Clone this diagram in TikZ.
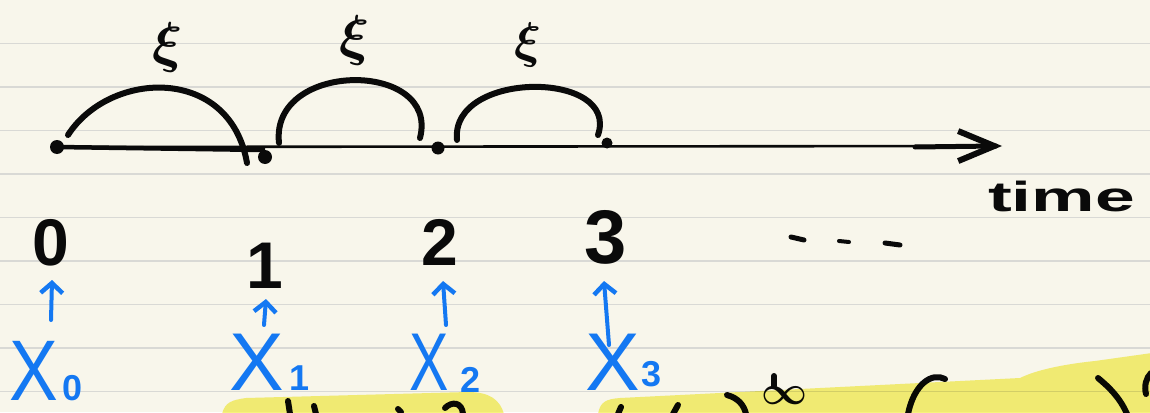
\documentclass[tikz,border=0pt]{standalone}
\usepackage{fontspec}
\newfontfamily\handfont{Liberation Sans}
\usetikzlibrary{arrows.meta}
\definecolor{paper}{HTML}{F8F6EB}
\definecolor{ruleline}{HTML}{D9D9D5}
\definecolor{ink}{HTML}{0A0A0A}
\definecolor{pen}{HTML}{1478F2}
\definecolor{hl}{HTML}{F7F37C}
\begin{document}
\begin{tikzpicture}[x=1pt,y=-1pt,
  ruled/.style={ruleline, line width=1.6pt},
  dotstyle/.style={circle, fill=ink, inner sep=0pt, minimum size=#1},
  axisline/.style={ink, line width=2.6pt},
  arcline/.style={ink, line width=6pt, line cap=round},
  xilab/.style={ink, font=\normalsize\boldmath, inner sep=0pt},
  numlab/.style={ink, font=\fontsize{66}{66}\selectfont\handfont\bfseries, inner sep=0pt},
  xlab/.style={pen, font=\fontsize{82}{82}\selectfont\handfont, inner sep=0pt, anchor=base west},
  xsubl/.style={pen, font=\fontsize{36}{36}\selectfont\handfont\bfseries, inner sep=0pt, anchor=base west},
  uparrow/.style={pen, line width=4pt, line cap=round, -{Straight Barb[length=10pt,width=22pt,line width=4.5pt]}},
  scrib/.style={ink, line width=6pt, line cap=round},
  hilite/.style={fill=hl},
]
\useasboundingbox (0,0) rectangle (1150,412);
\clip (0,0) rectangle (1150,412);
\fill[paper] (0,0) rectangle (1150,412);
% ruled paper
\foreach \yy in {43.5,87,130.5,174,217.5,261,304.5,348,391.5}
  \draw[ruled] (0,\yy) -- (1150,\yy);

% dots on the time axis
\node[dotstyle=14pt] (d0) at (57,147) {};
\node[dotstyle=14pt] (d1) at (265,157) {};
\node[dotstyle=13pt] (d2) at (438,148) {};
\node[dotstyle=11pt] (d3) at (607,143) {};
\coordinate (tip) at (1002,146);
\coordinate (seg1) at (265,150);
\coordinate (thick) at (915,147);

% axis
\draw[axisline, -{Straight Barb[length=36pt,width=30pt,line width=6pt]}] (d0.center) -- (tip);
\draw[ink, line width=4.5pt] (d0.center) -- (seg1);
\draw[ink, line width=5pt, line cap=round] (thick) -- ([xshift=-6pt]tip);

% arcs
\coordinate (a1s) at (68,135);  \coordinate (a1e) at (247,163);
\coordinate (a2s) at (279,143); \coordinate (a2e) at (420,138);
\coordinate (a3s) at (457,140); \coordinate (a3e) at (598,135);
\draw[arcline] (a1s) .. controls (110,70) and (230,65) .. (a1e);
\draw[arcline] (a2s) .. controls (270,60) and (440,60) .. (a2e);
\draw[arcline] (a3s) .. controls (450,70) and (620,70) .. (a3e);

% xi labels
\node[xilab] (xi1) at (168,47) {\scalebox{5.6}{$\xi$}};
\node[xilab] (xi2) at (355,41) {\scalebox{5.6}{$\xi$}};
\node[xilab] (xi3) at (528,45) {\scalebox{5}{$\xi$}};

% time label
\node[ink, font=\fontsize{42}{42}\selectfont\handfont\bfseries, inner sep=0pt, anchor=base west] (time) at (988,211) {\scalebox{1.7}[1]{time}};

% numbers
\node[numlab] (n0) at (51,243) {0};
\node[numlab] (n1) at (265,266) {1};
\node[numlab] (n2) at (440,242) {2};
\node[numlab, font=\fontsize{76}{76}\selectfont\handfont\bfseries] (n3) at (606,237) {3};

% ellipsis dashes
\draw[ink, line width=5pt, line cap=round] (791,237) -- (804,240);
\draw[ink, line width=4pt, line cap=round] (839,241) -- (849,242);
\draw[ink, line width=5pt, line cap=round] (885,243) -- (900,245);

% X labels
\node[xlab, font=\fontsize{86}{86}\selectfont\handfont] (x0) at (9,400) {\scalebox{0.85}[1]{X}};
\node[xsubl] (x0s) at (62,400) {0};
\node[xlab] (x1) at (229,390) {X};
\node[xsubl] (x1s) at (289,390) {1};
\node[xlab] (x2) at (409,390) {\scalebox{0.72}[1]{X}};
\node[xsubl] (x2s) at (460,392) {2};
\node[xlab] (x3) at (585,390) {X};
\node[xsubl] (x3s) at (641,386) {3};

% blue arrows
\coordinate (t0) at (51,320);  \coordinate (h0) at (52,280);
\coordinate (t1) at (264,325); \coordinate (h1) at (266,299);
\coordinate (t2) at (446,325); \coordinate (h2) at (443,281);
\coordinate (t3) at (609,345); \coordinate (h3) at (604,281);
\draw[uparrow] (t0) -- (h0);
\draw[uparrow] (t1) -- (h1);
\draw[uparrow] (t2) -- (h2);
\draw[uparrow] (t3) -- (h3);

% handwriting fragments at the bottom edge
\draw[scrib] (288,401) -- (290,414);
\draw[scrib] (314,406) -- (316,414);
\draw[scrib] (398,409) -- (401,412);
\draw[scrib] (445,408) .. controls (452,401) and (462,402) .. (463,414);
\draw[scrib] (621,407) -- (618,414);
\draw[scrib] (678,405) -- (673,414);
\draw[scrib] (727,395) .. controls (738,398) and (744,405) .. (746,414);
\draw[scrib] (774,376) -- (774,386);
\node[ink, font=\normalsize\boldmath, inner sep=0pt] (inf) at (784,396) {\scalebox{4}{$\infty$}};
\draw[scrib] (945,379) .. controls (932,372) and (914,384) .. (908,414);
\draw[scrib] (1098,378) .. controls (1110,388) and (1120,398) .. (1127,414);
\draw[scrib] (1151,373) .. controls (1146,378) and (1144,386) .. (1146,394);

% highlighter
\begin{scope}[blend mode=multiply]
\fill[hilite] (222,414) .. controls (225,402) and (232,400) .. (246,398) -- (468,392)
  .. controls (490,392) and (500,400) .. (504,414) -- cycle;
\fill[hilite] (598,414) .. controls (600,402) and (606,399) .. (620,398) -- (1020,378)
  .. controls (1040,368) and (1075,363) .. (1095,361) -- (1152,353) -- (1152,414) -- cycle;
\end{scope}
\end{tikzpicture}
\end{document}
